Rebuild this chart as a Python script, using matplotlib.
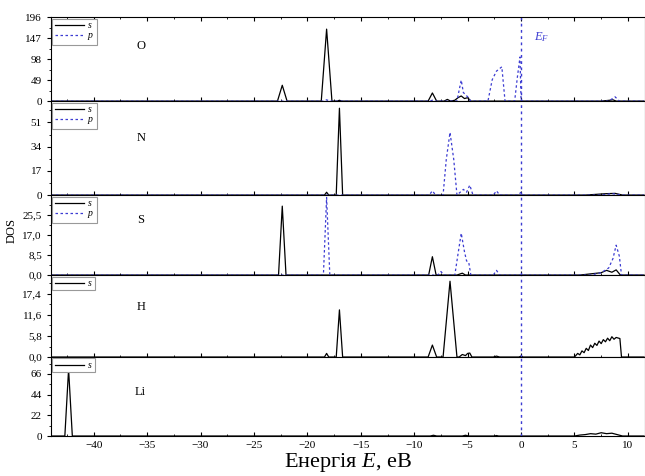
import matplotlib
matplotlib.use("Agg")
import matplotlib.pyplot as plt
from matplotlib.ticker import MultipleLocator, AutoMinorLocator, FuncFormatter
from matplotlib.lines import Line2D

plt.rcParams['font.family'] = 'Liberation Serif'
plt.rcParams['mathtext.fontset'] = 'custom'
plt.rcParams['mathtext.it'] = 'Liberation Serif:italic'
plt.rcParams['mathtext.rm'] = 'Liberation Serif'

# ---- data (energy in eV, DOS) ----
O_s_E = [-44, -22.8, -22.35, -21.9, -18.7, -18.2, -17.7, -17.2, -17.0, -16.8, -8.7, -8.3, -7.9,
         -7.2, -6.9, -6.6, -6.2, -5.9, -5.6, -5.3, -5.0, -4.7, 7.5, 8.3, 8.6, 8.9, 11.5]
O_s = [0, 0, 37, 0, 0, 168, 0, 0, 2, 0, 0, 19, 0,
       0, 4, 0, 2, 8, 12, 6, 8, 0, 0, 2, 3, 0, 0]
O_p_E = [-44, -18.5, -18.2, -17.9, -8.6, -8.3, -8.0, -6.0, -5.8, -5.6, -5.4, -5.2, -5.0, -4.7,
         -3.1, -2.7, -2.3, -1.8, -1.5, -0.6, -0.35, -0.1, 0.0, 8.2, 8.8, 9.2, 11.5]
O_p = [0, 0, 3, 0, 0, 2, 0, 0, 25, 49, 20, 15, 10, 0,
       0, 50, 70, 80, 0, 0, 55, 103, 0, 0, 10, 0, 0]

N_s_E = [-44, -18.4, -18.2, -18.0, -17.3, -17.0, -16.7, 6.0, 8.0, 8.8, 9.5, 11.5]
N_s = [0, 0, 2, 0, 0, 61, 0, 0, 1, 1.2, 0, 0]
N_p_E = [-44, -8.6, -8.3, -8.0, -7.3, -7.0, -6.65, -6.3, -6.0, -5.7, -5.4, -5.1, -4.8, -4.5,
         -2.6, -2.3, -2.0, -0.3, 0.0, 0.2, 7.5, 8.5, 9.5, 11.5]
N_p = [0, 0, 3, 0, 0, 25, 44, 25, 0, 2, 4, 2, 7, 0,
       0, 3, 0, 0, 2, 0, 0, 1, 0, 0]

S_s_E = [-44, -22.7, -22.35, -22.0, -8.65, -8.3, -7.95, -6.0, -5.5, -5.2,
         5.5, 6.5, 7.5, 8.0, 8.5, 8.9, 9.3, 11.5]
S_s = [0, 0, 29.3, 0, 0, 7.8, 0, 0, 0.8, 0,
       0, 0.5, 1, 2, 1.2, 2.2, 0, 0]
S_p_E = [-44, -18.5, -18.2, -17.9, -7.8, -7.5, -7.2, -6.2, -5.9, -5.6, -5.3, -5.1, -4.9, -4.7,
         -2.6, -2.3, -2.0, 6.5, 7.5, 8.2, 8.6, 8.9, 9.2, 9.4, 11.5]
S_p = [0, 0, 33, 0, 0, 1.5, 0, 0, 9, 17.8, 10, 6, 5.5, 0,
       0, 2, 0, 0, 1, 3, 7, 12.7, 8, 0, 0]

H_s_E = [-44, -18.4, -18.2, -18.0, -17.3, -17.0, -16.7, -8.7, -8.3, -7.9, -7.3, -6.65, -6.0,
         -5.8, -5.5, -5.2, -5.0, -4.8, -4.6, -2.6, -2.3, -2.0, -0.2, 0.0, 0.2,
         5.0, 5.3, 5.5, 5.7, 5.9, 6.1, 6.3, 6.5, 6.7, 6.9, 7.1, 7.3, 7.5, 7.7, 7.9, 8.1,
         8.3, 8.5, 8.7, 8.9, 9.25, 9.4, 11.5]
H_s = [0, 0, 1.0, 0, 0, 13.0, 0, 0, 3.3, 0, 0, 20.9, 0,
       0, 0.7, 0.4, 1.0, 1.1, 0, 0, 0.25, 0, 0, 0.25, 0,
       0, 1.0, 0.6, 1.7, 1.2, 2.4, 1.8, 3.3, 2.6, 3.8, 3.2, 4.4, 3.7, 4.8, 4.2, 5.2,
       4.5, 5.6, 4.9, 5.4, 5.1, 0, 0]

Li_s_E = [-44, -42.7, -42.35, -42.0, -8.5, -8.2, -7.9, -5.5, -5.2, -4.9, -2.5, -2.3, -2.1,
          5.0, 5.5, 6.0, 6.5, 7.0, 7.5, 8.0, 8.5, 9.0, 9.5, 11.5]
Li_s = [0, 0, 71, 0, 0, 0.8, 0, 0, 0.8, 0, 0, 0.5, 0,
        0, 1, 1.5, 2.5, 2, 3.5, 2.5, 3, 1.5, 0, 0]

O_ticks = [0, 49, 98, 147, 196]
N_ticks = [0, 17, 34, 51]
S_ticks = [0, 8.5, 17.0, 25.5]
H_ticks = [0, 5.8, 11.6, 17.4]
Li_ticks = [0, 22, 44, 66]

panels = [
    # name, s, p, ylim top, y ticks, decimals, label y
    ("O", (O_s_E, O_s), (O_p_E, O_p), 196, O_ticks, 0, 0.66),
    ("N", (N_s_E, N_s), (N_p_E, N_p), 66, N_ticks, 0, 0.61),
    ("S", (S_s_E, S_s), (S_p_E, S_p), 34, S_ticks, 1, 0.69),
    ("H", (H_s_E, H_s), None, 22.6, H_ticks, 1, 0.61),
    ("Li", (Li_s_E, Li_s), None, 84, Li_ticks, 0, 0.56),
]
heights = [84, 94, 80, 82, 79]

blue = '#3c3cd2'

fig = plt.figure(figsize=(6.45, 4.76), dpi=100)
gs = fig.add_gridspec(5, 1, height_ratios=heights, hspace=0,
                      left=0.079, right=1.0, bottom=0.084, top=0.964)

axes = []
for i, (name, s, p, ytop, ticks, dec, ly) in enumerate(panels):
    ax = fig.add_subplot(gs[i])
    axes.append(ax)
    ax.plot(s[0], s[1], color='black', lw=0.9)
    handles = [Line2D([], [], color='black', lw=0.9)]
    labels = ['$s$']
    if p is not None:
        ax.plot(p[0], p[1], color=blue, lw=0.9, ls=(0, (2, 2)))
        handles.append(Line2D([], [], color=blue, lw=0.9, ls=(0, (2, 2))))
        labels.append('$p$')
    ax.axvline(0, color=blue, lw=1.0, ls=(0, (2, 2.5)))
    ax.set_xlim(-44, 11.6)
    ax.set_ylim(0, ytop)
    ax.set_yticks(ticks)
    ax.yaxis.set_minor_locator(AutoMinorLocator(2))
    if dec:
        ax.yaxis.set_major_formatter(FuncFormatter(lambda v, pos: f"{v:.1f}".replace('.', ',')))
    else:
        ax.yaxis.set_major_formatter(FuncFormatter(lambda v, pos: f"{v:.0f}"))
    ax.xaxis.set_major_locator(MultipleLocator(5))
    ax.xaxis.set_minor_locator(MultipleLocator(2.5))
    ax.tick_params(axis='y', direction='out', labelsize=8, length=3)
    ax.tick_params(axis='y', which='minor', direction='out', length=1.5)
    ax.tick_params(axis='x', direction='in', length=3, top=(i == 0), labelsize=8)
    ax.tick_params(axis='x', which='minor', direction='in', length=1.5, top=(i == 0))
    if i < 4:
        ax.tick_params(axis='x', labelbottom=False)
    ax.text(-35.6, ly * ytop, name, fontsize=9, ha='center', va='center')
    leg = ax.legend(handles, labels, loc='upper left', fontsize=7, handlelength=3.0,
                    borderpad=0.25, labelspacing=0.15, handletextpad=0.3,
                    borderaxespad=0.15, fancybox=False, framealpha=1)
    leg.get_frame().set_edgecolor('#999999')
    leg.get_frame().set_linewidth(0.8)
    for sp in ax.spines.values():
        sp.set_linewidth(0.8)

axes[0].text(1.2, 0.76 * 196, '$E_F$', color=blue, fontsize=9, va='center')
axes[-1].set_xlabel('Енергія $E$, еВ', fontsize=16, labelpad=1)
fig.text(0.018, 0.515, 'DOS', rotation=90, fontsize=9, ha='center', va='center')

fig.savefig('out.png', dpi=100)
